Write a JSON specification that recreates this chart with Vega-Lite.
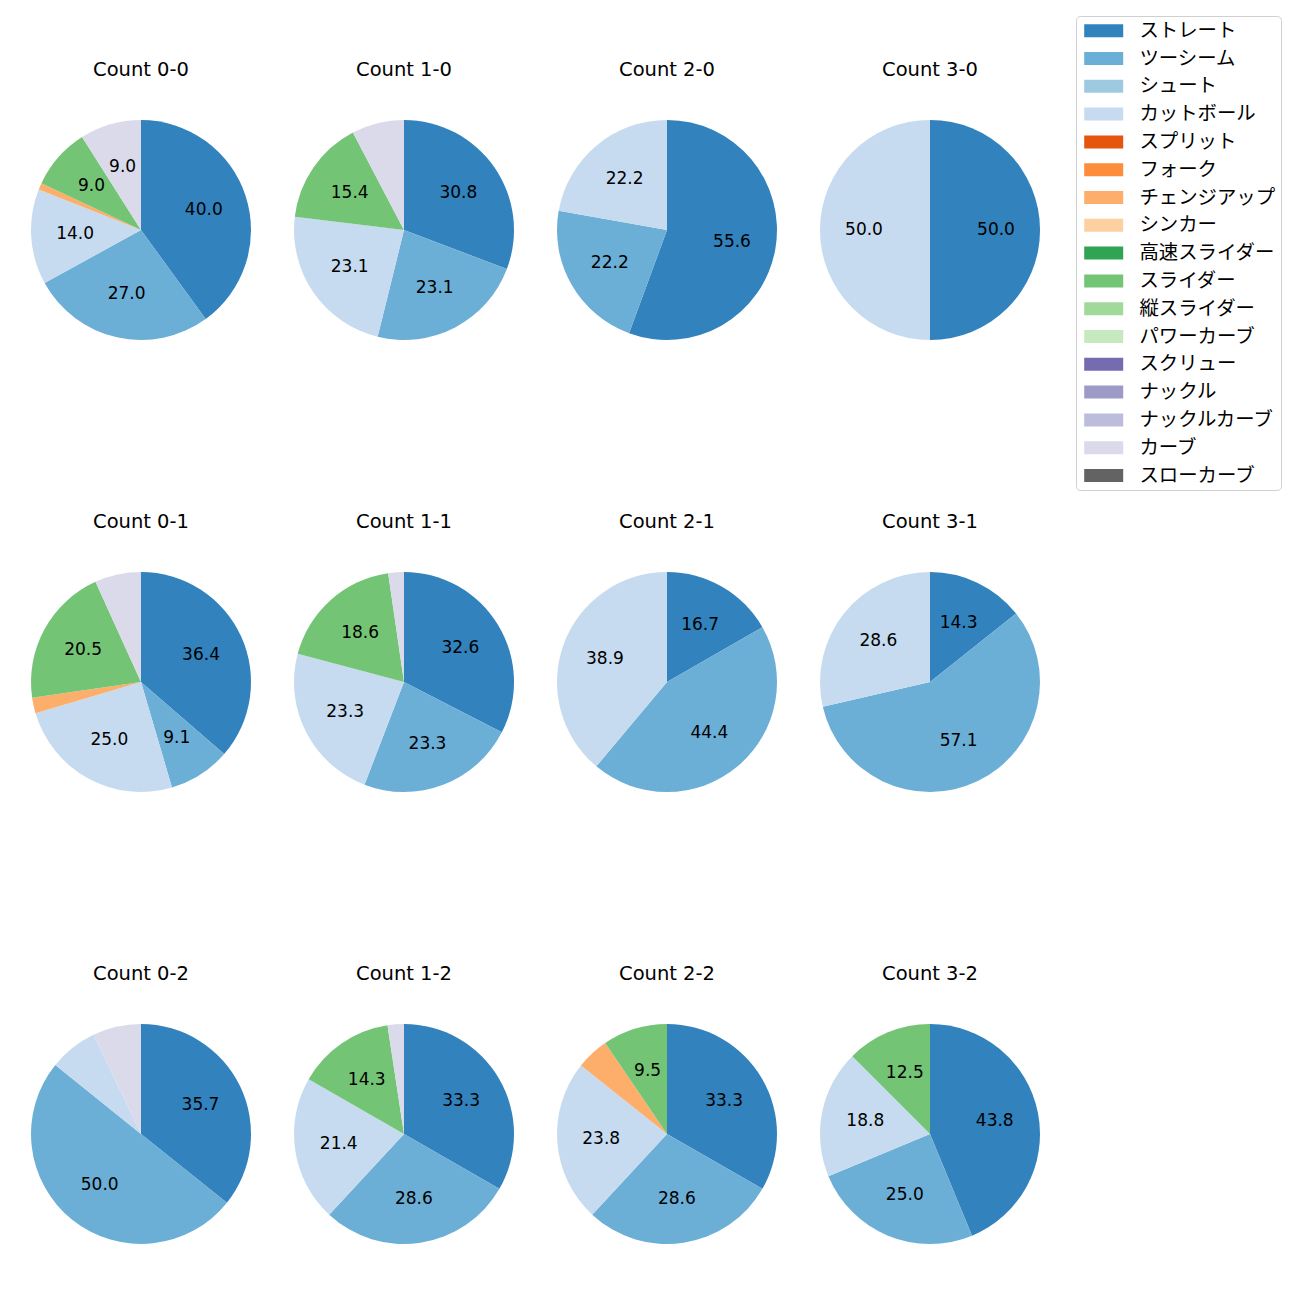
{
  "$schema": "https://vega.github.io/schema/vega-lite/v6.json",
  "padding": {"left": 31, "top": 15, "right": 5, "bottom": 5},
  "data": {"values": [
    {"c": "0-0", "p": "ストレート", "k": 0, "v": 40.0},
    {"c": "0-0", "p": "ツーシーム", "k": 1, "v": 27.0},
    {"c": "0-0", "p": "カットボール", "k": 3, "v": 14.0},
    {"c": "0-0", "p": "チェンジアップ", "k": 6, "v": 1.0},
    {"c": "0-0", "p": "スライダー", "k": 9, "v": 9.0},
    {"c": "0-0", "p": "カーブ", "k": 15, "v": 9.0},
    {"c": "1-0", "p": "ストレート", "k": 0, "v": 30.8},
    {"c": "1-0", "p": "ツーシーム", "k": 1, "v": 23.1},
    {"c": "1-0", "p": "カットボール", "k": 3, "v": 23.1},
    {"c": "1-0", "p": "スライダー", "k": 9, "v": 15.4},
    {"c": "1-0", "p": "カーブ", "k": 15, "v": 7.7},
    {"c": "2-0", "p": "ストレート", "k": 0, "v": 55.6},
    {"c": "2-0", "p": "ツーシーム", "k": 1, "v": 22.2},
    {"c": "2-0", "p": "カットボール", "k": 3, "v": 22.2},
    {"c": "3-0", "p": "ストレート", "k": 0, "v": 50.0},
    {"c": "3-0", "p": "カットボール", "k": 3, "v": 50.0},
    {"c": "0-1", "p": "ストレート", "k": 0, "v": 36.4},
    {"c": "0-1", "p": "ツーシーム", "k": 1, "v": 9.1},
    {"c": "0-1", "p": "カットボール", "k": 3, "v": 25.0},
    {"c": "0-1", "p": "チェンジアップ", "k": 6, "v": 2.3},
    {"c": "0-1", "p": "スライダー", "k": 9, "v": 20.5},
    {"c": "0-1", "p": "カーブ", "k": 15, "v": 6.8},
    {"c": "1-1", "p": "ストレート", "k": 0, "v": 32.6},
    {"c": "1-1", "p": "ツーシーム", "k": 1, "v": 23.3},
    {"c": "1-1", "p": "カットボール", "k": 3, "v": 23.3},
    {"c": "1-1", "p": "スライダー", "k": 9, "v": 18.6},
    {"c": "1-1", "p": "カーブ", "k": 15, "v": 2.3},
    {"c": "2-1", "p": "ストレート", "k": 0, "v": 16.7},
    {"c": "2-1", "p": "ツーシーム", "k": 1, "v": 44.4},
    {"c": "2-1", "p": "カットボール", "k": 3, "v": 38.9},
    {"c": "3-1", "p": "ストレート", "k": 0, "v": 14.3},
    {"c": "3-1", "p": "ツーシーム", "k": 1, "v": 57.1},
    {"c": "3-1", "p": "カットボール", "k": 3, "v": 28.6},
    {"c": "0-2", "p": "ストレート", "k": 0, "v": 35.7},
    {"c": "0-2", "p": "ツーシーム", "k": 1, "v": 50.0},
    {"c": "0-2", "p": "カットボール", "k": 3, "v": 7.1},
    {"c": "0-2", "p": "カーブ", "k": 15, "v": 7.1},
    {"c": "1-2", "p": "ストレート", "k": 0, "v": 33.3},
    {"c": "1-2", "p": "ツーシーム", "k": 1, "v": 28.6},
    {"c": "1-2", "p": "カットボール", "k": 3, "v": 21.4},
    {"c": "1-2", "p": "スライダー", "k": 9, "v": 14.3},
    {"c": "1-2", "p": "カーブ", "k": 15, "v": 2.4},
    {"c": "2-2", "p": "ストレート", "k": 0, "v": 33.3},
    {"c": "2-2", "p": "ツーシーム", "k": 1, "v": 28.6},
    {"c": "2-2", "p": "カットボール", "k": 3, "v": 23.8},
    {"c": "2-2", "p": "チェンジアップ", "k": 6, "v": 4.8},
    {"c": "2-2", "p": "スライダー", "k": 9, "v": 9.5},
    {"c": "3-2", "p": "ストレート", "k": 0, "v": 43.8},
    {"c": "3-2", "p": "ツーシーム", "k": 1, "v": 25.0},
    {"c": "3-2", "p": "カットボール", "k": 3, "v": 18.8},
    {"c": "3-2", "p": "スライダー", "k": 9, "v": 12.5}
  ]},
  "facet": {
    "field": "c", "type": "nominal",
    "sort": ["0-0","1-0","2-0","3-0","0-1","1-1","2-1","3-1","0-2","1-2","2-2","3-2"],
    "header": {"title": null, "labelExpr": "'Count ' + datum.value", "labelFontSize": 19.5, "labelFont": "DejaVu Sans", "labelPadding": 40, "labelColor": "black"}
  },
  "columns": 4,
  "spacing": {"row": 171, "column": 43},
  "resolve": {"scale": {"theta": "independent"}},
  "spec": {
    "width": 220,
    "height": 220,
    "layer": [
      {
        "mark": {"type": "arc", "radius": 110, "strokeWidth": 0},
        "encoding": {
          "theta": {"field": "v", "type": "quantitative", "stack": true},
          "order": {"field": "k", "type": "quantitative"},
          "color": {
            "field": "p", "type": "nominal",
            "scale": {
              "domain": ["ストレート","ツーシーム","シュート","カットボール","スプリット","フォーク","チェンジアップ","シンカー","高速スライダー","スライダー","縦スライダー","パワーカーブ","スクリュー","ナックル","ナックルカーブ","カーブ","スローカーブ"],
              "range": ["#3182bd","#6baed6","#9ecae1","#c6dbef","#e6550d","#fd8d3c","#fdae6b","#fdd0a2","#31a354","#74c476","#a1d99b","#c7e9c0","#756bb1","#9e9ac8","#bcbddc","#dadaeb","#636363"]
            },
            "legend": {
              "title": null, "orient": "none", "legendX": 1045, "legendY": -104,
              "symbolType": "M-1,-1L5,-1L5,1L-1,1Z", "symbolSize": 169, "symbolStrokeWidth": 0, "symbolOpacity": 1,
              "labelFontSize": 19.4, "labelFont": "Noto Sans CJK JP", "labelColor": "black",
              "rowPadding": 6.8, "labelOffset": 39, "padding": 5,
              "strokeColor": "#d0d0d0", "cornerRadius": 4, "fillColor": "white"
            }
          }
        }
      },
      {
        "mark": {"type": "text", "radius": 66, "fontSize": 17, "font": "DejaVu Sans", "color": "black"},
        "encoding": {
          "theta": {"field": "v", "type": "quantitative", "stack": true},
          "order": {"field": "k", "type": "quantitative"},
          "text": {"condition": {"test": "datum.v >= 8", "field": "v", "type": "quantitative", "format": ".1f"}, "value": ""}
        }
      }
    ]
  },
  "config": {"view": {"stroke": null}}
}
